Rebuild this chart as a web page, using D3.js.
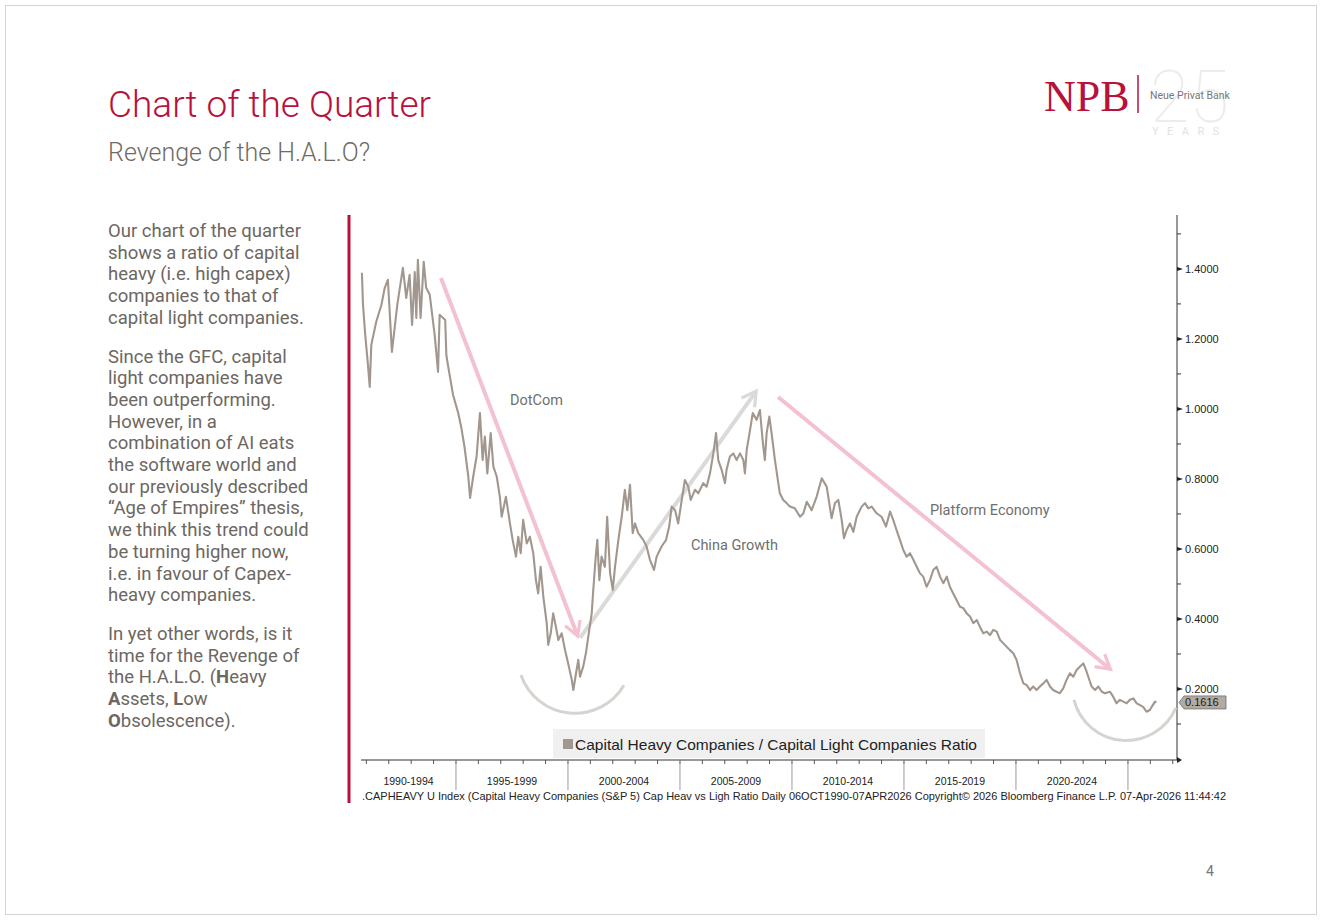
<!DOCTYPE html>
<html>
<head>
<meta charset="utf-8">
<script src="https://cdn.jsdelivr.net/npm/d3@7"></script>
<style>
  body { margin: 0; background: #fff; }
  svg { display: block; font-family: Roboto, "Liberation Sans", sans-serif; }
</style>
</head>
<body>
<svg id="chart" width="1322" height="921"></svg>
<script>
// ---- Data (decimal years) ----
const years = [1990.80,1990.85,1990.95,1991.07,1991.15,1991.22,1991.44,1991.67,1991.82,1991.96,1992.14,1992.38,1992.63,1992.78,1992.93,1993.04,1993.16,1993.23,1993.30,1993.42,1993.56,1993.67,1993.83,1994.05,1994.20,1994.27,1994.52,1994.57,1994.64,1994.87,1995.09,1995.24,
  1995.38,1995.55,1995.63,1995.77,1995.92,1996.07,1996.19,1996.29,1996.40,1996.55,1996.67,1996.82,1996.96,1997.04,1997.23,1997.41,1997.53,1997.68,1997.78,1997.89,1998.00,1998.16,1998.30,1998.45,1998.57,1998.67,1998.78,1998.90,1999.05,1999.12,1999.23,1999.34,1999.46,1999.57,1999.72,1999.87,
  2000.01,2000.17,2000.24,2000.36,2000.46,2000.54,2000.68,2000.80,2000.95,2001.06,2001.13,2001.24,2001.31,2001.40,2001.50,2001.65,2001.75,2001.88,2002.00,2002.10,2002.25,2002.40,2002.54,2002.65,2002.77,2002.89,2002.99,2003.14,2003.36,2003.51,2003.66,2003.84,2003.96,2004.18,2004.38,2004.52,2004.63,2004.78,2004.92,
  2005.08,2005.22,2005.37,2005.48,2005.67,2005.82,2006.04,2006.19,2006.34,2006.49,2006.61,2006.71,2006.86,2007.01,2007.08,2007.23,2007.38,2007.53,2007.68,2007.83,2007.90,2007.98,2008.13,2008.25,2008.42,2008.57,2008.69,2008.79,2008.87,2008.99,2009.09,2009.24,2009.39,2009.46,2009.61,2009.76,2009.91,
  2010.13,2010.36,2010.51,2010.66,2010.88,2011.10,2011.33,2011.55,2011.77,2011.92,2012.07,2012.22,2012.32,2012.44,2012.59,2012.74,2012.89,2013.11,2013.26,2013.41,2013.56,2013.78,2014.00,2014.20,2014.38,2014.52,2014.67,2014.82,2014.97,
  2015.12,2015.27,2015.42,2015.57,2015.71,2015.86,2016.01,2016.16,2016.31,2016.46,2016.61,2016.76,2016.91,2017.05,2017.20,2017.35,2017.50,2017.65,2017.80,2017.95,2018.10,2018.25,2018.39,2018.54,2018.69,2018.84,2018.99,2019.14,2019.29,2019.43,2019.58,2019.73,2019.88,
  2020.03,2020.18,2020.33,2020.48,2020.63,2020.77,2020.92,2021.07,2021.22,2021.37,2021.52,2021.66,2021.81,2021.96,2022.11,2022.26,2022.41,2022.56,2022.71,2022.86,2023.01,2023.13,2023.23,2023.38,2023.53,2023.68,2023.83,2023.97,2024.20,2024.34,2024.49,2024.64,2024.79,2024.94,
  2025.09,2025.24,2025.39,2025.54,2025.68,2025.83,2025.98,2026.06,2026.21,2026.27];

const ratio = [1.389,1.297,1.211,1.126,1.063,1.183,1.249,1.297,1.346,1.369,1.163,1.297,1.403,1.317,1.383,1.240,1.391,1.260,1.426,1.260,1.420,1.346,1.326,1.211,1.106,1.269,1.254,1.154,1.126,1.040,0.991,0.946,
  0.892,0.807,0.746,0.807,0.864,0.988,0.854,0.921,0.816,0.931,0.835,0.807,0.749,0.692,0.749,0.673,0.626,0.578,0.635,0.588,0.683,0.616,0.635,0.588,0.511,0.473,0.549,0.464,0.388,0.326,0.359,0.416,0.378,0.340,0.359,0.311,
  0.273,0.226,0.197,0.245,0.283,0.235,0.264,0.302,0.369,0.416,0.483,0.578,0.626,0.511,0.578,0.549,0.692,0.531,0.483,0.549,0.626,0.692,0.769,0.711,0.783,0.645,0.673,0.645,0.626,0.607,0.569,0.540,0.578,0.607,0.626,0.664,0.721,0.711,0.673,
  0.740,0.797,0.778,0.740,0.769,0.759,0.788,0.778,0.816,0.873,0.931,0.854,0.826,0.788,0.826,0.864,0.873,0.854,0.873,0.854,0.816,0.883,0.940,0.988,0.969,0.997,0.911,0.854,0.931,0.978,0.931,0.854,0.788,0.759,0.740,0.731,0.721,
  0.716,0.692,0.702,0.735,0.711,0.749,0.802,0.778,0.688,0.731,0.740,0.683,0.631,0.654,0.673,0.649,0.692,0.721,0.731,0.716,0.721,0.702,0.692,0.664,0.707,0.683,0.654,0.626,0.597,
  0.578,0.588,0.569,0.549,0.531,0.521,0.492,0.511,0.540,0.549,0.521,0.502,0.521,0.492,0.473,0.454,0.435,0.431,0.416,0.407,0.388,0.397,0.378,0.359,0.364,0.354,0.369,0.364,0.340,0.331,0.321,0.311,0.302,
  0.283,0.245,0.216,0.211,0.197,0.207,0.197,0.207,0.216,0.226,0.207,0.197,0.192,0.188,0.202,0.226,0.245,0.235,0.254,0.264,0.273,0.254,0.235,0.207,0.197,0.207,0.192,0.188,0.192,0.178,0.159,0.169,0.164,0.159,
  0.169,0.173,0.159,0.154,0.149,0.135,0.140,0.149,0.164,0.1616];

const lastValue = 0.1616;
const yTicks = [0.2, 0.4, 0.6, 0.8, 1.0, 1.2, 1.4];
const yMinorTicks = [0.1, 0.3, 0.5, 0.7, 0.9, 1.1, 1.3, 1.5];
const periodStarts = [1990, 1995, 2000, 2005, 2010, 2015, 2020];
const periodLabels = ["1990-1994", "1995-1999", "2000-2004", "2005-2009", "2010-2014", "2015-2019", "2020-2024"];
const periodBreaks = [1995, 2000, 2005, 2010, 2015, 2020, 2025];
const yearTicks = d3.range(1991, 2028);

// annotations, in data units [year, ratio]
const arrows = [
  { from: [1994.33, 1.374], to: [2000.40, 0.357], color: "#f4c1d0" },
  { from: [2000.54, 0.346], to: [2008.35, 1.046], color: "#dcdad8" },
  { from: [2009.38, 1.034], to: [2024.15, 0.260], color: "#f4c1d0" }
];
const smiles = [
  { from: [1997.90, 0.240], to: [2002.50, 0.211], r: 57 },
  { from: [2022.59, 0.169], to: [2027.14, 0.146], r: 54 }
];
const phaseLabels = [
  { text: "DotCom", at: [1997.41, 1.011] },
  { text: "China Growth", at: [2005.49, 0.597] },
  { text: "Platform Economy", at: [2016.16, 0.697] }
];

const paragraphs = [
  ["Our chart of the quarter", "shows a ratio of capital", "heavy (i.e. high capex)", "companies to that of", "capital light companies."],
  ["Since the GFC, capital", "light companies have", "been outperforming.", "However, in a", "combination of AI eats", "the software world and",
   "our previously described", "\u201cAge of Empires\u201d thesis,", "we think this trend could", "be turning higher now,", "i.e. in favour of Capex-", "heavy companies."],
  ["In yet other words, is it", "time for the Revenge of", "the H.A.L.O. (**H**eavy", "**A**ssets, **L**ow", "**O**bsolescence)."]
];

const footer = ".CAPHEAVY U Index (Capital Heavy Companies (S&P 5) Cap Heav vs Ligh Ratio Daily 06OCT1990-07APR2026 Copyright\u00a9 2026 Bloomberg Finance L.P. 07-Apr-2026 11:44:42";

// ---- Setup ----
const svg = d3.select("#chart");
const crimson = "#b8123c";
const lineColor = "#a1978e";
const axisFont = "'Liberation Sans', Arial, sans-serif";

const x = d3.scaleLinear().domain([1990.76, 2027.19]).range([361, 1177]);
const y = d3.scaleLinear().domain([0, 1.554]).range([759, 215]);
const px = p => [x(p[0]), y(p[1])];

// page frame
svg.append("rect").attr("x", 5.5).attr("y", 5.5).attr("width", 1311).attr("height", 909)
  .attr("fill", "#fff").attr("stroke", "#d4d4d4");

// title
svg.append("text").attr("x", 108).attr("y", 117).text("Chart of the Quarter")
  .attr("fill", crimson).attr("font-size", 37).attr("font-weight", 300);
svg.append("text").attr("x", 108).attr("y", 161).text("Revenge of the H.A.L.O?")
  .attr("fill", "#6f6a66").attr("font-size", 25).attr("font-weight", 300);

// logo
const logo = svg.append("g");
logo.append("text").attr("x", 1150).attr("y", 122).text("25")
  .attr("font-size", 72).attr("font-weight", 100).attr("fill", "#ececec");
logo.append("text").attr("x", 1152).attr("y", 135).text("YEARS")
  .attr("font-size", 11).attr("letter-spacing", 8.5).attr("fill", "#e2e2e2");
logo.append("text").attr("x", 1044).attr("y", 111).text("NPB")
  .attr("font-family", "'Liberation Serif', 'DejaVu Serif', serif").attr("font-size", 44).attr("fill", crimson);
logo.append("line").attr("x1", 1138).attr("x2", 1138).attr("y1", 75).attr("y2", 113)
  .attr("stroke", crimson).attr("stroke-width", 1.5);
logo.append("text").attr("x", 1150).attr("y", 99).text("Neue Privat Bank")
  .attr("font-size", 10.5).attr("fill", "#777");

// left paragraph text
const body = svg.append("g").attr("fill", "#6d6762").attr("font-size", 18.5);
let baseY = 237;
paragraphs.forEach(lines => {
  lines.forEach(line => {
    const t = body.append("text").attr("x", 108).attr("y", baseY);
    line.split(/(\*\*[^*]+\*\*)/).filter(s => s).forEach(seg => {
      const bold = seg.startsWith("**");
      t.append("tspan").text(bold ? seg.slice(2, -2) : seg).attr("font-weight", bold ? 700 : 400);
    });
    baseY += 21.7;
  });
  baseY += 17;
});

// red vertical rule
svg.append("line").attr("x1", 349).attr("x2", 349).attr("y1", 215).attr("y2", 803)
  .attr("stroke", crimson).attr("stroke-width", 3);

// ---- Right y axis ----
const yAxisG = svg.append("g").attr("font-family", axisFont);
yAxisG.append("line").attr("x1", 1177).attr("x2", 1177).attr("y1", 215).attr("y2", 760)
  .attr("stroke", "#333").attr("stroke-width", 1);
yAxisG.selectAll("path.major").data(yTicks).enter().append("path")
  .attr("d", d => `M1177,${y(d) - 2}L1183,${y(d)}L1177,${y(d) + 2}Z`).attr("fill", "#222");
yAxisG.selectAll("line.minor").data(yMinorTicks).enter().append("line")
  .attr("x1", 1177).attr("x2", 1181).attr("y1", d => y(d)).attr("y2", d => y(d))
  .attr("stroke", "#333");
yAxisG.selectAll("text.lab").data(yTicks).enter().append("text")
  .attr("x", 1185).attr("y", d => y(d) + 4).text(d => d3.format(".4f")(d))
  .attr("font-size", 11).attr("fill", "#222");

// ---- bottom x axis ----
const xAxisG = svg.append("g").attr("font-family", axisFont);
xAxisG.append("line").attr("x1", x.range()[0]).attr("x2", x.range()[1]).attr("y1", 760).attr("y2", 760)
  .attr("stroke", "#333");
xAxisG.append("path").attr("d", `M${x.range()[1]},757L${x.range()[1] + 5},760L${x.range()[1]},763Z`).attr("fill", "#222");
xAxisG.selectAll("line.yr").data(yearTicks.filter(d => x(d) < 1177)).enter().append("line")
  .attr("x1", d => x(d)).attr("x2", d => x(d)).attr("y1", 760).attr("y2", 764)
  .attr("stroke", "#555");
xAxisG.selectAll("line.brk").data(periodBreaks).enter().append("line")
  .attr("x1", d => x(d)).attr("x2", d => x(d)).attr("y1", 760).attr("y2", 790)
  .attr("stroke", "#9a9a9a");
xAxisG.selectAll("text.per").data(periodStarts).enter().append("text")
  .attr("x", (d, i) => (Math.max(x(d), x.range()[0]) + x(d + 5)) / 2).attr("y", 785)
  .attr("text-anchor", "middle").attr("font-size", 10.5).attr("fill", "#222")
  .text((d, i) => periodLabels[i]);
svg.append("text").attr("x", 362).attr("y", 800).text(footer)
  .attr("font-family", axisFont).attr("font-size", 10.5).attr("fill", "#222")
  .attr("textLength", 864).attr("lengthAdjust", "spacingAndGlyphs");

// ---- annotations (behind the line) ----
const defs = svg.append("defs");
arrows.forEach((a, i) => {
  defs.append("marker").attr("id", "ah" + i).attr("viewBox", "0 0 10 10")
    .attr("refX", 7).attr("refY", 5).attr("markerWidth", 5).attr("markerHeight", 5)
    .attr("orient", "auto").attr("markerUnits", "strokeWidth")
    .append("path").attr("d", "M1,1L8,5L1,9").attr("fill", "none")
    .attr("stroke", a.color).attr("stroke-width", 1.6).attr("stroke-linejoin", "miter");
});
const annot = svg.append("g");
annot.selectAll("line.arrow").data(arrows).enter().append("line")
  .attr("x1", d => px(d.from)[0]).attr("y1", d => px(d.from)[1])
  .attr("x2", d => px(d.to)[0]).attr("y2", d => px(d.to)[1])
  .attr("stroke", d => d.color).attr("stroke-width", 4)
  .attr("marker-end", (d, i) => `url(#ah${i})`);
annot.selectAll("path.smile").data(smiles).enter().append("path")
  .attr("d", d => {
    const [x0, y0] = px(d.from), [x1, y1] = px(d.to);
    return `M${x0},${y0}A${d.r},${d.r} 0 0,0 ${x1},${y1}`;
  })
  .attr("fill", "none").attr("stroke", "#d6d3d0").attr("stroke-width", 3);
annot.selectAll("text.phase").data(phaseLabels).enter().append("text")
  .attr("x", d => px(d.at)[0]).attr("y", d => px(d.at)[1]).text(d => d.text)
  .attr("font-size", 14.5).attr("fill", "#6f6f6f");

// ---- series line ----
const series = d3.zip(years, ratio);
svg.append("path").datum(series)
  .attr("d", d3.line().x(d => x(d[0])).y(d => y(d[1])))
  .attr("fill", "none").attr("stroke", lineColor).attr("stroke-width", 2.1)
  .attr("stroke-linejoin", "round");

// last value tag
const ly = y(lastValue);
svg.append("path")
  .attr("d", `M1179,${ly}L1184,${ly - 6.5}L1226,${ly - 6.5}L1226,${ly + 6.5}L1184,${ly + 6.5}Z`)
  .attr("fill", "#b3aaa2").attr("stroke", "#6e6e6e").attr("stroke-width", 0.8);
svg.append("text").attr("x", 1185).attr("y", ly + 4).text(d3.format(".4f")(lastValue))
  .attr("font-family", axisFont).attr("font-size", 11).attr("fill", "#1a1a1a");

// legend
const leg = svg.append("g");
leg.append("rect").attr("x", 553).attr("y", 729).attr("width", 432).attr("height", 29).attr("fill", "#f0f0f0");
leg.append("rect").attr("x", 563).attr("y", 739).attr("width", 10).attr("height", 10).attr("fill", lineColor);
leg.append("text").attr("x", 575).attr("y", 749.5).text("Capital Heavy Companies / Capital Light Companies Ratio")
  .attr("font-family", axisFont).attr("font-size", 15).attr("fill", "#222")
  .attr("textLength", 402).attr("lengthAdjust", "spacingAndGlyphs");

// page number
svg.append("text").attr("x", 1210).attr("y", 876).text("4").attr("font-size", 14).attr("fill", "#777")
  .attr("text-anchor", "middle");
</script>
</body>
</html>
